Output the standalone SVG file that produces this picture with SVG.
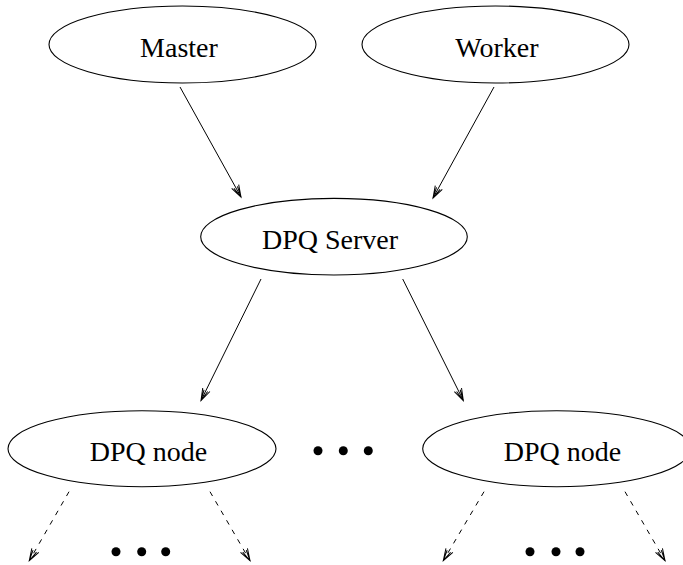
<svg xmlns="http://www.w3.org/2000/svg" width="683" height="565" viewBox="0 0 683 565">
<style>
.n{fill:none;stroke:#000;stroke-width:1.1}
.t{font-family:"Liberation Serif","Times New Roman",serif;font-size:28px;text-anchor:middle;fill:#000}
.e{fill:none;stroke:#000;stroke-width:1}
.d{stroke-dasharray:5,6}
.dot{fill:#000}
</style>
<defs>
<marker id="ah" markerUnits="userSpaceOnUse" markerWidth="16" markerHeight="12" viewBox="-13 -6 16 12" refX="0" refY="0" orient="auto">
<path d="M-12,-4 L0,0 L-12,4 M-11,-2 L0,0 L-11,2" fill="none" stroke="#000" stroke-width="1"/>
</marker>
</defs>
<rect width="683" height="565" fill="#fff"/>
<g id="connectors">
<line class="e" x1="180" y1="87" x2="241" y2="197" marker-end="url(#ah)"/>
<line class="e" x1="494" y1="87" x2="433" y2="198" marker-end="url(#ah)"/>
<line class="e" x1="261" y1="279" x2="201" y2="400.5" marker-end="url(#ah)"/>
<line class="e" x1="402.7" y1="279" x2="463.3" y2="400.5" marker-end="url(#ah)"/>
<line class="e d" x1="69" y1="491.7" x2="29.3" y2="560.7" marker-end="url(#ah)"/>
<line class="e d" x1="210" y1="491.7" x2="250" y2="560.7" marker-end="url(#ah)"/>
<line class="e d" x1="484" y1="491.7" x2="443.3" y2="560.7" marker-end="url(#ah)"/>
<line class="e d" x1="625" y1="491.7" x2="665" y2="560.7" marker-end="url(#ah)"/>
</g>
<g id="master">
<ellipse class="n" cx="182.5" cy="44.5" rx="133.5" ry="38.5"/>
<text class="t" x="179" y="57">Master</text>
</g>
<g id="worker">
<ellipse class="n" cx="495.5" cy="44.5" rx="133.5" ry="38.5"/>
<text class="t" x="497" y="57">Worker</text>
</g>
<g id="server">
<ellipse class="n" cx="334" cy="236.7" rx="133.3" ry="38.3"/>
<text class="t" x="330" y="249.3">DPQ Server</text>
</g>
<g id="node-left">
<ellipse class="n" cx="142" cy="448.7" rx="134" ry="38"/>
<text class="t" x="148.5" y="460.7">DPQ node</text>
</g>
<g id="node-right">
<ellipse class="n" cx="556.7" cy="448.7" rx="134" ry="38"/>
<text class="t" x="562.4" y="460.7">DPQ node</text>
</g>
<g id="ellipsis-middle">
<circle class="dot" cx="318" cy="450.7" r="4.5"/>
<circle class="dot" cx="343.3" cy="450.7" r="4.5"/>
<circle class="dot" cx="368.3" cy="450.7" r="4.5"/>
</g>
<g id="ellipsis-left">
<circle class="dot" cx="116" cy="551.7" r="4.5"/>
<circle class="dot" cx="141.7" cy="551.7" r="4.5"/>
<circle class="dot" cx="165.7" cy="551.7" r="4.5"/>
</g>
<g id="ellipsis-right">
<circle class="dot" cx="530" cy="551.7" r="4.5"/>
<circle class="dot" cx="556" cy="551.7" r="4.5"/>
<circle class="dot" cx="580" cy="551.7" r="4.5"/>
</g>
</svg>
